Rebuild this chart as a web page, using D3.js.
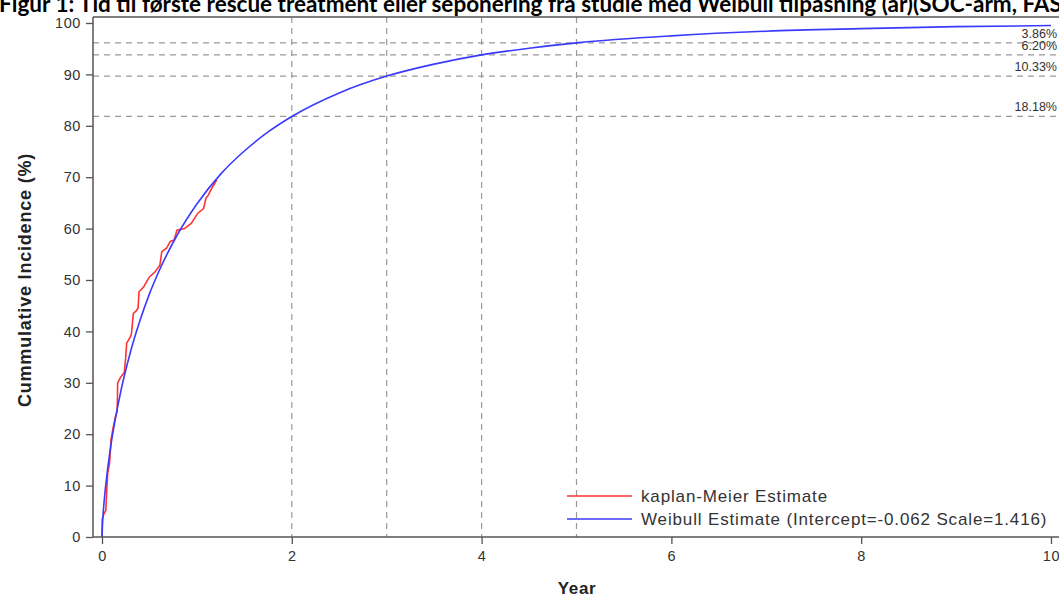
<!DOCTYPE html>
<html>
<head>
<meta charset="utf-8">
<script src="https://cdn.jsdelivr.net/npm/d3@7"></script>
<style>
  body { margin: 0; background: #fff; }
  svg { display: block; }
</style>
</head>
<body>
<div id="chart"></div>
<script>
// Kaplan-Meier estimate (years, %)
var kmTime  = [0, 0.003, 0.02, 0.04, 0.05, 0.06, 0.08, 0.095, 0.12, 0.14, 0.16, 0.165, 0.2, 0.235, 0.25, 0.26, 0.3, 0.31, 0.33, 0.36, 0.38, 0.39, 0.44, 0.5, 0.56, 0.61, 0.63, 0.68, 0.72, 0.76, 0.79, 0.87, 0.94, 1.01, 1.07, 1.095, 1.12, 1.155, 1.21];
var kmValue = [0, 3.5, 4.5, 5.2, 9, 12.4, 14.4, 18.9, 21.5, 23.3, 24.5, 30.0, 31.2, 32.0, 35, 37.7, 39.0, 39.5, 43.5, 44, 44.5, 47.7, 48.7, 50.6, 51.6, 52.9, 55.5, 56.2, 57.5, 57.8, 59.7, 60.0, 61.0, 63.0, 63.9, 65.9, 66.5, 67.8, 69.5];

// Weibull estimate, read at these years (%)
var wbTime  = [0, 0.005, 0.01, 0.02, 0.05, 0.1, 0.15, 0.2, 0.3, 0.4, 0.5, 0.6, 0.8, 1.0, 1.25, 1.5, 1.75, 2, 2.5, 3, 3.5, 4, 4.5, 5, 6, 7, 8, 9, 10];
var wbValue = [0, 2.4, 4.0, 6.4, 11.8, 18.6, 23.9, 28.5, 36.0, 42.1, 47.3, 51.7, 59.0, 64.8, 70.6, 75.1, 78.8, 81.82, 86.4, 89.67, 92.0, 93.80, 95.1, 96.14, 97.5, 98.4, 98.9, 99.3, 99.5];

// reference lines: years and the remaining % at those years
var refYears  = [2, 3, 4, 5];
var refLevels = [81.82, 89.67, 93.80, 96.14];
var refLabels = ["18.18%", "10.33%", "6.20%", "3.86%"];

var xTicks = [0, 2, 4, 6, 8, 10];
var yTicks = [0, 10, 20, 30, 40, 50, 60, 70, 80, 90, 100];

var legendNames = ["kaplan-Meier Estimate", "Weibull Estimate (Intercept=-0.062 Scale=1.416)"];
var title = "Figur 1: Tid til første rescue treatment eller seponering fra studie med Weibull tilpasning (år)(SOC-arm, FAS)";

function init(){
	var w = 1059, h = 597;
	var left = 93, top = 17, bottom = 537, right = 1062;

	var x = d3.scaleLinear().domain([0, 10]).range([102, 1051]);
	var y = d3.scaleLinear().domain([0, 100]).range([537, 23]);

	var svg = d3.select("#chart").append("svg")
		.attr("width", w)
		.attr("height", h)
		.style("font-family", "'Liberation Sans', Arial, sans-serif");

	// title, its top is cut off like in the original
	svg.append("text")
		.attr("x", -1)
		.attr("y", 11.5)
		.attr("font-family", "Lato, 'Open Sans', sans-serif")
		.attr("font-weight", "bold")
		.attr("font-size", 22.5)
		.attr("fill", "#000")
		.text(title);

	// dashed reference lines
	svg.selectAll("line.vref")
		.data(refYears)
		.enter()
		.append("line")
		.attr("class", "vref")
		.attr("x1", function(d){ return x(d); })
		.attr("x2", function(d){ return x(d); })
		.attr("y1", top)
		.attr("y2", bottom)
		.attr("stroke", "#999")
		.attr("stroke-width", 1.2)
		.attr("stroke-dasharray", "6,5");

	svg.selectAll("line.href")
		.data(refLevels)
		.enter()
		.append("line")
		.attr("class", "href")
		.attr("x1", left)
		.attr("x2", right)
		.attr("y1", function(d){ return y(d); })
		.attr("y2", function(d){ return y(d); })
		.attr("stroke", "#999")
		.attr("stroke-width", 1.2)
		.attr("stroke-dasharray", "6,5");

	svg.selectAll("text.reflab")
		.data(refLevels)
		.enter()
		.append("text")
		.attr("class", "reflab")
		.attr("x", 1057)
		.attr("y", function(d){ return y(d) - 5; })
		.attr("text-anchor", "end")
		.attr("font-size", 12.5)
		.attr("fill", "#333")
		.text(function(d, i){ return refLabels[i]; });

	// curves
	var line = d3.line()
		.x(function(d){ return x(d[0]); })
		.y(function(d){ return y(d[1]); });

	var km = kmTime.map(function(t, i){ return [t, kmValue[i]]; });
	var wb = wbTime.map(function(t, i){ return [t, wbValue[i]]; });

	svg.append("path")
		.attr("d", line(km))
		.attr("fill", "none")
		.attr("stroke", "#ff3333")
		.attr("stroke-width", 1.6);

	svg.append("path")
		.attr("d", line.curve(d3.curveMonotoneX)(wb))
		.attr("fill", "none")
		.attr("stroke", "#3a3aff")
		.attr("stroke-width", 1.6);

	// frame top
	svg.append("line")
		.attr("x1", left).attr("x2", right)
		.attr("y1", top).attr("y2", top)
		.attr("stroke", "#555").attr("stroke-width", 1.5);

	// axes
	var xAxis = d3.axisBottom(x).tickValues(xTicks).tickSize(7).tickPadding(7);
	var gx = svg.append("g")
		.attr("transform", "translate(0," + bottom + ")")
		.call(xAxis);
	gx.select(".domain").remove();
	gx.append("line")
		.attr("x1", left).attr("x2", right)
		.attr("stroke", "#555").attr("stroke-width", 1.5);

	var yAxis = d3.axisLeft(y).tickValues(yTicks).tickSize(7).tickPadding(5);
	var gy = svg.append("g")
		.attr("transform", "translate(" + left + ",0)")
		.call(yAxis);
	gy.select(".domain").remove();
	gy.append("line")
		.attr("y1", top).attr("y2", bottom)
		.attr("stroke", "#555").attr("stroke-width", 1.5);

	svg.selectAll(".tick line").attr("stroke", "#555").attr("stroke-width", 1.3);
	svg.selectAll(".tick text")
		.attr("font-size", 14.5)
		.attr("letter-spacing", 0.6)
		.attr("font-family", "'Liberation Sans', Arial, sans-serif")
		.attr("fill", "#333");

	// axis titles
	svg.append("text")
		.attr("transform", "translate(31,280) rotate(-90)")
		.attr("text-anchor", "middle")
		.attr("font-weight", "bold")
		.attr("font-size", 18)
		.attr("letter-spacing", 0.8)
		.attr("fill", "#222")
		.text("Cummulative Incidence (%)");

	svg.append("text")
		.attr("x", 577)
		.attr("y", 594)
		.attr("text-anchor", "middle")
		.attr("font-weight", "bold")
		.attr("font-size", 17)
		.attr("letter-spacing", 0.6)
		.attr("fill", "#222")
		.text("Year");

	// legend
	var colors = ["#ff3333", "#3a3aff"];
	var lg = svg.selectAll("g.leg")
		.data(legendNames)
		.enter()
		.append("g")
		.attr("class", "leg")
		.attr("transform", function(d, i){ return "translate(567," + (496 + i * 23) + ")"; });
	lg.append("line")
		.attr("x1", 0).attr("x2", 65)
		.attr("stroke", function(d, i){ return colors[i]; })
		.attr("stroke-width", 1.5);
	lg.append("text")
		.attr("x", 74)
		.attr("dy", "0.35em")
		.attr("font-size", 17)
		.attr("letter-spacing", 0.85)
		.attr("fill", "#333")
		.text(function(d){ return d; });
}

window.onload = init;
</script>
</body>
</html>
